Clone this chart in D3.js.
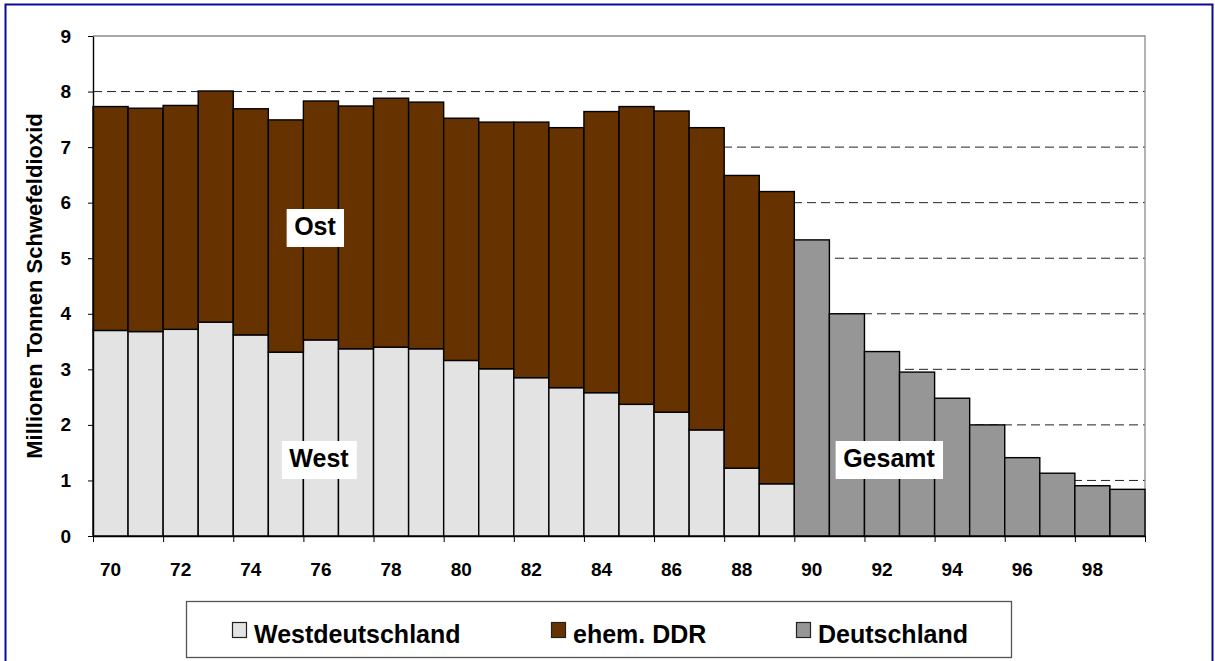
<!DOCTYPE html>
<meta charset="utf-8">
<script src="https://d3js.org/d3.v7.min.js"></script>
<style>
  body { margin: 0; background: #fff; }
  text { font-family: "Liberation Sans", Arial, sans-serif; font-weight: bold; fill: #000; }
</style>
<div id="chart"></div>
<script>
  // data (million tonnes SO2)
  const yearsSplit = [70, 71, 72, 73, 74, 75, 76, 77, 78, 79, 80, 81, 82, 83, 84, 85, 86, 87, 88, 89];
  const west = [3.70, 3.68, 3.72, 3.85, 3.62, 3.31, 3.53, 3.37, 3.40, 3.37, 3.16, 3.01, 2.85, 2.67, 2.58, 2.37, 2.23, 1.91, 1.22, 0.94];
  const ddr = [4.03, 4.02, 4.03, 4.16, 4.07, 4.18, 4.30, 4.37, 4.48, 4.44, 4.36, 4.44, 4.60, 4.68, 5.06, 5.36, 5.42, 5.44, 5.27, 5.26];
  const yearsTotal = [90, 91, 92, 93, 94, 95, 96, 97, 98, 99];
  const gesamt = [5.33, 4.00, 3.32, 2.95, 2.48, 2.00, 1.41, 1.13, 0.905, 0.84];
  const xTickLabels = ["70", "72", "74", "76", "78", "80", "82", "84", "86", "88", "90", "92", "94", "96", "98"];
  const yTicks = [0, 1, 2, 3, 4, 5, 6, 7, 8, 9];
  const seriesNames = ["Westdeutschland", "ehem. DDR", "Deutschland"];
  const colors = ["#e3e3e3", "#663300", "#969696"];

  const W = 1215, H = 661;
  const mLeft = 93, mRight = 1145, mTop = 36, mBottom = 536;

  const svg = d3.select("#chart").append("svg")
    .attr("width", W)
    .attr("height", H);

  // outer blue frame
  svg.append("rect")
    .attr("x", 5.5).attr("y", 4.5)
    .attr("width", 1207).attr("height", 700)
    .attr("fill", "none")
    .attr("stroke", "#0a0a96")
    .attr("stroke-width", 2);

  const allYears = yearsSplit.concat(yearsTotal);
  const x = d3.scaleBand().domain(allYears).range([mLeft, mRight]).padding(0);
  const y = d3.scaleLinear().domain([0, 9]).range([mBottom, mTop]);

  // grid lines
  svg.append("g")
    .selectAll("line")
    .data(yTicks.filter(d => d > 0 && d < 9))
    .join("line")
    .attr("x1", mLeft).attr("x2", mRight)
    .attr("y1", d => y(d)).attr("y2", d => y(d))
    .attr("stroke", "#222")
    .attr("stroke-dasharray", "9,5");

  // plot area border top / right (grey)
  svg.append("path")
    .attr("d", `M${mLeft},${y(9)}H${mRight}V${mBottom}`)
    .attr("fill", "none")
    .attr("stroke", "#8c8c8c")
    .attr("stroke-width", 1.3);

  // stacked bars West + DDR
  const rows = yearsSplit.map((yr, i) => ({ year: yr, west: west[i], ddr: ddr[i] }));
  const stacked = d3.stack().keys(["west", "ddr"])(rows);

  svg.append("g")
    .selectAll("g")
    .data(stacked)
    .join("g")
    .attr("fill", (d, i) => colors[i])
    .selectAll("rect")
    .data(d => d)
    .join("rect")
    .attr("x", d => x(d.data.year))
    .attr("y", d => y(d[1]))
    .attr("width", x.bandwidth())
    .attr("height", d => y(d[0]) - y(d[1]))
    .attr("stroke", "#000")
    .attr("stroke-width", 1.4);

  // Gesamt bars
  svg.append("g")
    .selectAll("rect")
    .data(yearsTotal.map((yr, i) => ({ year: yr, v: gesamt[i] })))
    .join("rect")
    .attr("x", d => x(d.year))
    .attr("y", d => y(d.v))
    .attr("width", x.bandwidth())
    .attr("height", d => y(0) - y(d.v))
    .attr("fill", colors[2])
    .attr("stroke", "#000")
    .attr("stroke-width", 1.4);

  // y axis
  const yAxis = svg.append("g")
    .attr("transform", `translate(${mLeft},0)`)
    .call(d3.axisLeft(y).tickValues(yTicks).tickSize(5).tickSizeOuter(0).tickPadding(17));
  yAxis.selectAll("text").style("font-size", "19px");
  yAxis.select(".domain").attr("stroke-width", 1.4);

  // x axis: ticks every second bar boundary
  const xb = d3.scaleLinear().domain([70, 100]).range([mLeft, mRight]);
  const xAxis = svg.append("g")
    .attr("transform", `translate(0,${mBottom})`)
    .call(d3.axisBottom(xb).tickValues(d3.range(70, 101, 2)).tickSize(6).tickSizeOuter(0).tickFormat(""));
  xAxis.select(".domain").attr("stroke-width", 1.4);

  svg.append("g")
    .selectAll("text")
    .data(xTickLabels)
    .join("text")
    .attr("x", d => x(+d) + x.bandwidth() / 2)
    .attr("y", 576)
    .attr("text-anchor", "middle")
    .style("font-size", "19px")
    .text(d => d);

  // y axis title
  svg.append("text")
    .attr("transform", `translate(42,${(mBottom + mTop) / 2}) rotate(-90)`)
    .attr("text-anchor", "middle")
    .style("font-size", "22px")
    .text("Millionen Tonnen Schwefeldioxid");

  // in-plot labels on white boxes
  const notes = [
    { t: "Ost", cx: 315, base: 235 },
    { t: "West", cx: 319, base: 467 },
    { t: "Gesamt", cx: 889, base: 467 }
  ];
  notes.forEach(n => {
    const g = svg.append("g");
    const txt = g.append("text")
      .attr("x", n.cx).attr("y", n.base)
      .attr("text-anchor", "middle")
      .style("font-size", "25px")
      .text(n.t);
    const bb = txt.node().getBBox();
    g.insert("rect", "text")
      .attr("x", bb.x - 7.5).attr("y", n.base - 26)
      .attr("width", bb.width + 15).attr("height", 38)
      .attr("fill", "#fff");
  });

  // legend
  svg.append("rect")
    .attr("x", 186.5).attr("y", 601.5)
    .attr("width", 825).attr("height", 56)
    .attr("fill", "#fff")
    .attr("stroke", "#555")
    .attr("stroke-width", 1.3);

  const legX = [232, 551, 796];
  seriesNames.forEach((name, i) => {
    svg.append("rect")
      .attr("x", legX[i] + 0.5).attr("y", 622.5)
      .attr("width", 14).attr("height", 15)
      .attr("fill", colors[i])
      .attr("stroke", "#222")
      .attr("stroke-width", 1.2);
    svg.append("text")
      .attr("x", legX[i] + 22)
      .attr("y", 643)
      .style("font-size", "25px")
      .text(name);
  });
</script>
